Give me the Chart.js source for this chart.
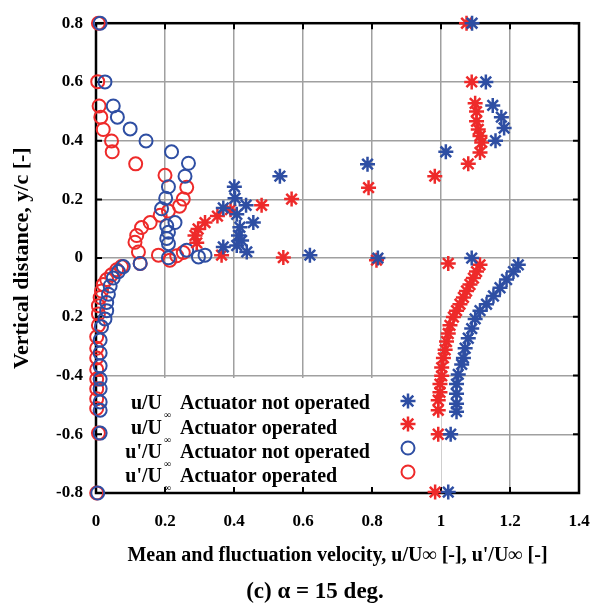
<!DOCTYPE html>
<html>
<head>
<meta charset="utf-8">
<script src="https://cdn.jsdelivr.net/npm/chart.js@4.4.1/dist/chart.umd.min.js"></script>
<style>
  html, body { margin: 0; padding: 0; background: #fff; }
  #wrap { width: 611px; height: 608px; }
</style>
</head>
<body>
<div id="wrap"><canvas id="chart" width="611" height="608"></canvas></div>
<script>
// u/U∞, actuator not operated (blue stars)
const uNotX = [1.09, 1.13, 1.15, 1.175, 1.183, 1.158, 1.014, 0.787, 0.533, 0.401, 0.403, 0.435, 0.369, 0.408, 0.456, 0.417, 0.413, 0.422, 0.408, 0.369, 0.437, 0.62, 0.817, 1.089,
  1.224, 1.21, 1.19, 1.171, 1.152, 1.132, 1.113, 1.099, 1.089, 1.079, 1.07, 1.065, 1.06, 1.05, 1.045, 1.045, 1.045, 1.045, 1.028, 1.021];
const uNotY = [0.8, 0.6, 0.52, 0.48, 0.443, 0.4, 0.362, 0.32, 0.279, 0.243, 0.204, 0.18, 0.171, 0.149, 0.121, 0.105, 0.077, 0.06, 0.043, 0.038, 0.021, 0.01, 0.0, 0.0,
  -0.023, -0.046, -0.073, -0.101, -0.129, -0.157, -0.179, -0.207, -0.24, -0.273, -0.307, -0.34, -0.362, -0.396, -0.429, -0.462, -0.496, -0.523, -0.6, -0.797];

// u/U∞, actuator operated (red stars)
const uOpX = [1.074, 1.089, 1.099, 1.103, 1.103, 1.108, 1.113, 1.118, 1.113, 1.079, 0.982, 0.79, 0.567, 0.48, 0.39, 0.352, 0.316, 0.296, 0.287, 0.292, 0.364, 0.543, 0.813, 1.021,
  1.113, 1.103, 1.094, 1.084, 1.074, 1.065, 1.055, 1.045, 1.036, 1.026, 1.021, 1.016, 1.012, 1.007, 1.002, 1.002, 0.997, 0.997, 0.992, 0.992, 0.992, 0.983];
const uOpY = [0.8, 0.6, 0.527, 0.499, 0.466, 0.438, 0.416, 0.394, 0.36, 0.321, 0.279, 0.24, 0.201, 0.18, 0.165, 0.143, 0.121, 0.099, 0.077, 0.052, 0.01, 0.002, -0.007, -0.018,
  -0.023, -0.046, -0.068, -0.09, -0.112, -0.134, -0.157, -0.179, -0.201, -0.229, -0.257, -0.284, -0.312, -0.34, -0.373, -0.401, -0.429, -0.457, -0.484, -0.518, -0.6, -0.797];

// u'/U∞, actuator not operated (blue circles)
const upNotX = [0.012, 0.026, 0.05, 0.062, 0.099, 0.145, 0.219, 0.268, 0.258, 0.21, 0.202, 0.19, 0.229, 0.205, 0.21, 0.205, 0.21, 0.263, 0.316, 0.297, 0.21, 0.128,
  0.079, 0.065, 0.05, 0.041, 0.036, 0.031, 0.031, 0.026, 0.016, 0.012, 0.012, 0.012, 0.012, 0.012, 0.012, 0.012, 0.012, 0.005];
const upNotY = [0.8, 0.6, 0.518, 0.48, 0.44, 0.399, 0.362, 0.323, 0.279, 0.243, 0.204, 0.168, 0.121, 0.11, 0.088, 0.067, 0.049, 0.027, 0.01, 0.004, 0.001, -0.018,
  -0.029, -0.046, -0.068, -0.095, -0.123, -0.151, -0.179, -0.207, -0.234, -0.279, -0.323, -0.367, -0.412, -0.445, -0.49, -0.518, -0.596, -0.8];

// u'/U∞, actuator operated (red circles)
const upOpX = [0.007, 0.005, 0.009, 0.014, 0.021, 0.045, 0.047, 0.115, 0.2, 0.263, 0.253, 0.242, 0.21, 0.186, 0.157, 0.132, 0.118, 0.113, 0.123, 0.128, 0.181, 0.214, 0.234, 0.253,
  0.074, 0.06, 0.045, 0.031, 0.021, 0.016, 0.012, 0.007, 0.007, 0.007, 0.002, 0.002, 0.002, 0.002, 0.002, 0.002, 0.002, 0.002, 0.007, 0.002];
const upOpY = [0.8, 0.601, 0.518, 0.48, 0.438, 0.399, 0.362, 0.321, 0.282, 0.241, 0.201, 0.177, 0.16, 0.146, 0.121, 0.104, 0.077, 0.054, 0.021, -0.018, 0.01, -0.007, 0.008, 0.019,
  -0.029, -0.04, -0.057, -0.073, -0.09, -0.112, -0.134, -0.162, -0.19, -0.229, -0.268, -0.307, -0.34, -0.379, -0.412, -0.445, -0.479, -0.512, -0.596, -0.8];

const xTicks = [0, 0.2, 0.4, 0.6, 0.8, 1, 1.2, 1.4];
const xTickLabels = ['0', '0.2', '0.4', '0.6', '0.8', '1', '1.2', '1.4'];
const yTicks = [-0.8, -0.6, -0.4, -0.2, 0, 0.2, 0.4, 0.6, 0.8];
const yTickLabels = ['-0.8', '-0.6', '-0.4', '0.2', '0', '0.2', '0.4', '0.6', '0.8'];

const legendPrefix = ['u/U', 'u/U', "u'/U", "u'/U"];
const legendText = ['Actuator not operated', 'Actuator operated', 'Actuator not operated', 'Actuator operated'];

const BLUE = '#2e4ea3';
const RED = '#ee2a2a';
const SERIF = '"Liberation Serif", "Times New Roman", serif';

function pts(xs, ys) {
    return xs.map((v, i) => ({ x: v, y: ys[i] }));
}

function tickLabel(ticks, labels) {
    return v => labels[ticks.findIndex(t => Math.abs(t - v) < 1e-6)];
}

function drawMarker(ctx, style, color, cx, cy, r, lw) {
    ctx.save();
    ctx.strokeStyle = color;
    ctx.lineWidth = lw;
    ctx.beginPath();
    if (style === 'star') {
        for (let k = 0; k < 4; k++) {
            const a = k * Math.PI / 4;
            ctx.moveTo(cx - r * Math.cos(a), cy - r * Math.sin(a));
            ctx.lineTo(cx + r * Math.cos(a), cy + r * Math.sin(a));
        }
    } else {
        ctx.arc(cx, cy, r, 0, Math.PI * 2);
    }
    ctx.stroke();
    ctx.restore();
}

const framePlugin = {
    id: 'frame',
    beforeDatasetsDraw(chart) {
        const { ctx, chartArea: a, scales } = chart;
        ctx.save();
        // white legend panel over the grid
        ctx.fillStyle = '#fff';
        ctx.fillRect(a.left + 1, 378, 440 - a.left, a.bottom - 378);
        // inward ticks on all four sides
        ctx.strokeStyle = '#000';
        ctx.lineWidth = 2;
        ctx.beginPath();
        xTicks.forEach(v => {
            const px = scales.x.getPixelForValue(v);
            ctx.moveTo(px, a.top); ctx.lineTo(px, a.top + 6);
            ctx.moveTo(px, a.bottom); ctx.lineTo(px, a.bottom - 6);
        });
        yTicks.forEach(v => {
            const py = scales.y.getPixelForValue(v);
            ctx.moveTo(a.left, py); ctx.lineTo(a.left + 6, py);
            ctx.moveTo(a.right, py); ctx.lineTo(a.right - 6, py);
        });
        ctx.stroke();
        ctx.lineWidth = 2.5;
        ctx.strokeRect(a.left, a.top, a.right - a.left, a.bottom - a.top);
        ctx.restore();
    },
    afterDraw(chart) {
        const { ctx } = chart;
        ctx.save();
        const rows = [404, 429, 453, 477];
        const markerY = [401, 424, 448, 472];
        const ds = chart.data.datasets;
        rows.forEach((y, i) => {
            ctx.fillStyle = '#000';
            ctx.font = 'bold 20px ' + SERIF;
            ctx.textBaseline = 'middle';
            ctx.textAlign = 'right';
            ctx.fillText(legendPrefix[i], 162, y);
            ctx.textAlign = 'left';
            ctx.fillText(legendText[i], 180, y);
            ctx.font = '10px ' + SERIF;
            ctx.fillText('\u221e', 164, y + 11);
            const star = ds[i].pointStyle === 'star';
            drawMarker(ctx, ds[i].pointStyle, ds[i].borderColor, 408, markerY[i], star ? 7.5 : 6.5, star ? 2.5 : 2);
        });
        ctx.fillStyle = '#000';
        ctx.font = 'bold 23px ' + SERIF;
        ctx.textAlign = 'center';
        ctx.textBaseline = 'middle';
        ctx.fillText('(c) \u03b1 = 15 deg.', 315, 592);
        ctx.restore();
    }
};

const common = { showLine: false, clip: false, backgroundColor: 'transparent' };

new Chart(document.getElementById('chart'), {
    type: 'scatter',
    data: {
        datasets: [
            { ...common, label: 'u/U∞ Actuator not operated', data: pts(uNotX, uNotY), pointStyle: 'star', pointRadius: 7.5, borderWidth: 2.5, borderColor: BLUE },
            { ...common, label: 'u/U∞ Actuator operated', data: pts(uOpX, uOpY), pointStyle: 'star', pointRadius: 7.5, borderWidth: 2.5, borderColor: RED },
            { ...common, label: "u'/U∞ Actuator not operated", data: pts(upNotX, upNotY), pointStyle: 'circle', pointRadius: 6.5, borderWidth: 2, borderColor: BLUE },
            { ...common, label: "u'/U∞ Actuator operated", data: pts(upOpX, upOpY), pointStyle: 'circle', pointRadius: 6.5, borderWidth: 2, borderColor: RED }
        ]
    },
    plugins: [framePlugin],
    options: {
        responsive: false,
        animation: false,
        layout: { padding: { left: 0, right: 32, top: 13, bottom: 0 } },
        plugins: { legend: { display: false }, tooltip: { enabled: false } },
        scales: {
            x: {
                type: 'linear', min: 0, max: 1.4,
                afterBuildTicks: s => { s.ticks = xTicks.map(v => ({ value: v })); },
                afterFit: s => { s.height = 115; },
                grid: { color: '#a0a0a0', lineWidth: 1.5, drawTicks: false },
                border: { display: false },
                ticks: {
                    padding: 18, color: '#000', font: { family: SERIF, weight: 'bold', size: 17 },
                    callback: tickLabel(xTicks, xTickLabels)
                },
                title: {
                    display: true, color: '#000',
                    text: "Mean and fluctuation velocity, u/U\u221e [-], u'/U\u221e [-]",
                    font: { family: SERIF, weight: 'bold', size: 20 },
                    padding: { top: 4, bottom: 40 }
                }
            },
            y: {
                type: 'linear', min: -0.8, max: 0.8,
                afterBuildTicks: s => { s.ticks = yTicks.map(v => ({ value: v })); },
                afterFit: s => { s.width = 96; },
                grid: { color: '#a0a0a0', lineWidth: 1.5, drawTicks: false },
                border: { display: false },
                ticks: {
                    padding: 13, color: '#000', font: { family: SERIF, weight: 'bold', size: 17 },
                    callback: tickLabel(yTicks, yTickLabels)
                },
                title: {
                    display: true, color: '#000',
                    text: 'Vertical distance, y/c [-]',
                    font: { family: SERIF, weight: 'bold', size: 22 },
                    padding: { top: 9, bottom: 0 }
                }
            }
        }
    }
});
</script>
</body>
</html>
